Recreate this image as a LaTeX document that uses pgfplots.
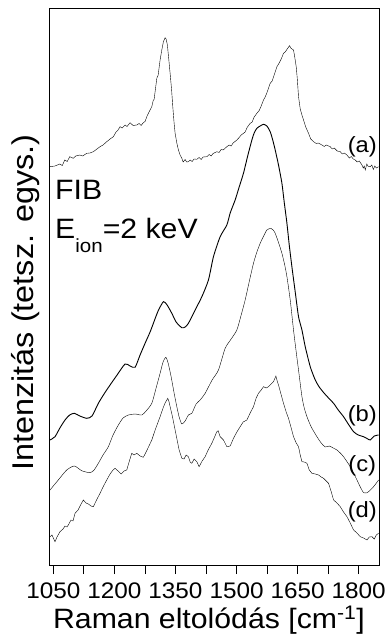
\documentclass[border=0pt]{standalone}
\usepackage{pgfplots}
\pgfplotsset{compat=1.18}
\usepackage{fontspec}
\setmainfont{Liberation Sans}[FakeStretch=1.08]
\begin{document}
\begin{tikzpicture}
\begin{axis}[
  scale only axis,
  width=329.7pt, height=556.5pt,
  xmin=1040, xmax=1850, ymin=0, ymax=556.5,
  xtick={1050,1200,1350,1500,1650,1800},
  xticklabels={1050,1200,1350,1500,1650,1800},
  minor xtick={1125,1275,1425,1575,1725},
  ytick=\empty,
  xtick pos=bottom,
  tick align=outside,
  major tick length=9pt, minor tick length=9pt,
  axis line style={line width=0.8pt},
  every tick/.style={line width=0.8pt, black},
  xticklabel style={font=\fontsize{22.5}{22.5}\selectfont, anchor=base, yshift=-24pt},
  xlabel={Raman eltolódás [cm\textsuperscript{-1}]},
  ylabel={Intenzitás (tetsz. egys.)},
  xlabel style={font=\fontsize{28}{28}\selectfont, at={(axis description cs:0.4844,-0.1133)}, anchor=base},
  ylabel style={font=\fontsize{30}{30}\selectfont, at={(axis description cs:-0.0485,0.4717)}, anchor=base},
  clip=false,
  cycle list={{black, line width=0.9pt, line join=round, no markers}},
]
% (a)
\addplot coordinates {
(1041.7,398.3)(1054,399)(1065.6,401)(1072,399.5)(1078,405)(1084,403.5)(1090.2,408.3)(1099,406.7)(1105,409)(1114.8,410)(1122,409)
(1132,411.7)(1140,412)(1148.2,413.3)(1157,416)(1164.7,418.3)(1172,420)(1181.1,423.3)(1189.3,426)(1197.4,428.3)(1204,433)
(1208.9,435)(1213.9,438.3)(1218.8,437)(1226.1,440)(1231,438.5)(1238.4,442.3)(1245.8,439.5)(1254.9,440)(1260.5,441.5)(1265.5,439.5)
(1271.1,442.3)(1275.3,443.5)(1279.5,448.3)(1285,453)(1291.8,458.3)(1295,464)(1297.7,466)(1304.1,486.7)(1307.5,490)(1312.2,505)
(1316.4,515)(1320.3,523.3)(1324.5,527.3)(1327,526)(1330.1,520)(1333,508)(1336.8,491.7)(1340.5,475)(1343.4,458.3)(1346.6,442)
(1349.1,431.7)(1353.3,422)(1357.2,415)(1361.4,410)(1365.6,406.7)(1368.8,403)(1373.7,405.5)(1377.4,403)(1381.8,403.3)(1386,405)
(1390.9,403.5)(1395.8,406)(1402.5,405.7)(1408,407.5)(1413,405.5)(1418,408)(1427,408.3)(1432.7,410.5)(1437.6,409)(1442.5,411.5)
(1451.6,413.3)(1457.3,412.5)(1462.2,415.5)(1467.2,415)(1476.2,418.3)(1481.9,420)(1486.8,419)(1491.7,422)(1500.8,425)(1506.5,427.5)
(1511.4,430)(1517,431.7)(1521.2,433)(1526,437.5)(1533.5,441.7)(1538.4,443)(1543.3,448)(1550,451.7)(1555.7,454.5)(1560.6,459)
(1566.2,465)(1570.4,468)(1575.3,473)(1582.7,481.7)(1587.6,484)(1592.5,490)(1599.2,498.3)(1604.8,502)(1609.8,506)(1615.4,511.7)
(1619.6,513)(1624.5,516)(1630.2,519.3)(1634.3,516.5)(1640,515)(1643,508)(1646.6,498.3)(1649.1,487)(1652.3,468.3)(1656.5,456)
(1660.7,450)(1664.6,445)(1670,438)(1676.9,431.7)(1682.3,426)(1689.2,423.3)(1695.8,421.5)(1700.8,422)(1709.8,420)(1715.5,418.5)
(1720.4,420)(1730.2,418.3)(1735.2,416)(1740.1,417)(1747.5,414)(1754.8,413.3)(1759.8,411)(1764.7,412)(1771.3,410)(1777,407)
(1781.9,408.5)(1786.8,406)(1791.7,405)(1796.6,403)(1801.6,404)(1808.2,400)(1811.4,397)(1813.8,399)(1816.3,395)(1820,401)
(1823.6,398.5)(1828.6,398.3)(1832.3,400)(1836,395.5)(1839.7,399)(1843.4,397)(1849,398.3)
};
% (b)
\addplot+[smooth, tension=0.4] coordinates {
(1041.7,125)(1054,128.3)(1066,137)(1078.6,145)(1090,150)(1101.5,151.7)(1115,149)(1132,146.7)(1145,149)(1160.5,161.7)(1174.5,171)
(1189.3,180)(1206.5,190)(1226.1,201)(1238.4,199)(1250.7,197.7)(1263,210)(1275.3,221.7)(1287.6,233)(1295.7,241.7)(1307.3,254)
(1320.3,263.3)(1329.4,260)(1341,251.7)(1351.6,243)(1365.6,237.3)(1373.7,238)(1381.8,241.7)(1398.3,255)(1414.8,268.3)(1431,285)
(1443.3,308.3)(1459.8,328.3)(1476.2,340)(1484.4,352)(1496.6,365)(1506.5,378)(1517,391.7)(1527.4,409)(1537.7,425)(1543.3,432)
(1550,436.7)(1558.1,439)(1566.2,440.7)(1574.6,439)(1582.7,433.3)(1588.9,425)(1595,415)(1603.1,400)(1611.5,381.7)(1617.1,363)
(1623.8,341.7)(1629.5,320)(1636,298.3)(1644.2,273)(1652.3,248.3)(1660.7,235)(1668.8,218.3)(1681.1,198.3)(1693.4,185)(1703.2,178)
(1713.8,172.5)(1726.1,167)(1738.4,161.7)(1749.9,155)(1762.9,148.3)(1774.5,141)(1787.5,133.3)(1799,130)(1812.1,128.3)(1820.5,126.5)
(1828.6,125)(1838.4,129)(1849,130)
};
% (c)
\addplot+[smooth, tension=0.4] coordinates {
(1041.7,75)(1062.1,85)(1082.8,95)(1101.5,99)(1119.7,94.3)(1140.1,92.3)(1150,95)(1160.5,101.7)(1172,110)(1185.1,118.3)(1196.6,130)
(1209.7,140)(1221.2,147)(1234.3,150)(1250.7,151)(1267.2,150)(1277.8,154)(1291.8,161.7)(1302.4,177)(1312.2,191.7)(1319.5,203)
(1326.2,207.7)(1331.9,202)(1339.3,188.3)(1346.6,172)(1353.3,158.3)(1359,148)(1365.6,141)(1373.7,144)(1381.8,150)(1390.2,151.7)
(1400.7,161)(1410.6,165)(1422.9,171.7)(1440,185)(1455.6,195)(1472.1,216.7)(1486.8,226)(1500.8,235)(1511.4,250)(1521.2,265)
(1531,283)(1541.6,301.7)(1550,313)(1558.1,321.7)(1566.7,329)(1574.6,335)(1584.4,336.7)(1590,335)(1595,331.7)(1603.6,322)
(1611.5,311.7)(1618.4,300)(1623.8,288.3)(1631.9,265)(1640,235)(1646.6,213)(1652.3,195)(1660.7,168.3)(1666.4,157)(1673,148.3)
(1683.6,138)(1697.5,128.3)(1708,122)(1718,118)(1727.8,119)(1737.6,117)(1746.7,115)(1754.8,112)(1762.9,108.3)(1779.4,98.3)
(1795.9,85)(1804,78)(1812.1,72.3)(1818.8,72)(1824.4,73.3)(1836.7,78.3)(1849,85)
};
% (d)
\addplot coordinates {
(1041.7,28.3)(1046.6,30)(1054,23.3)(1058.9,28)(1066.3,33.3)(1073.7,36)(1078.6,39)(1083.5,38)(1086.7,40)(1093.4,45)(1098.3,44)
(1103.2,51.7)(1110.6,55)(1115.5,59)(1123.6,65)(1130.2,62)(1135.9,61)(1142.5,59)(1148.2,58.3)(1157.3,66)(1164.7,71.7)(1172,78)
(1181.1,85)(1189.3,91)(1196.6,95)(1201.6,96.7)(1209,94)(1216.3,91)(1223.7,94)(1230.3,95)(1236,103)(1242.6,111.7)(1248.2,110)
(1254.9,111.7)(1263,109)(1271.1,107.7)(1280.2,115)(1291.8,125)(1300,135)(1312.2,148.3)(1319.5,157)(1324.5,162)(1331.1,166.7)
(1334.3,163)(1336.8,158.3)(1341.7,150)(1349.1,135)(1354,125)(1359,115)(1365.6,106.7)(1371.1,106)(1376.1,110)(1381.8,108.3)
(1386,103)(1390.2,101.7)(1395.8,106)(1402.5,103.3)(1408.1,98.3)(1415.5,104)(1422.9,108.3)(1430.3,115)(1439.3,121.7)(1445,127)
(1451.6,133.3)(1454.9,134.3)(1459.8,128.3)(1467.9,125)(1476.2,118.3)(1484.4,119)(1492.5,126.7)(1500.8,133)(1508.9,138.3)(1516.3,143)
(1525.4,145)(1533.5,152)(1541.6,158.3)(1548.3,167)(1553.9,171.7)(1560.6,175)(1566.2,178.3)(1572.8,177)(1578.5,178.3)(1585.2,181)
(1590.8,183.3)(1596.7,189)(1599.9,184)(1603.1,180)(1608.5,172)(1615.4,161.7)(1622,153)(1627.7,146.7)(1634.3,137)(1640,128.3)
(1646.6,122)(1652.3,118.3)(1656.5,110)(1660.7,103.3)(1666.4,103)(1673,101.7)(1678.7,95)(1685.3,91.7)(1693.4,91)(1701.5,90)
(1708,88)(1713.8,86.7)(1720.4,84)(1726.1,81.7)(1732.8,73)(1738.4,65)(1746.7,62)(1754.8,58.3)(1762.9,53)(1771.3,48.3)
(1779.4,42)(1787.5,35)(1795.9,32)(1804,28.3)(1812.1,27)(1820.5,25)(1826.1,28)(1832.7,28.3)(1838.4,26)(1843.4,30)(1849,31.7)
};
\node[font=\fontsize{22}{22}\selectfont] at (axis cs:1809,418) {(a)};
\node[font=\fontsize{22}{22}\selectfont] at (axis cs:1809,149) {(b)};
\node[font=\fontsize{22}{22}\selectfont] at (axis cs:1809,99) {(c)};
\node[font=\fontsize{22}{22}\selectfont] at (axis cs:1809,53) {(d)};
\node[font=\fontsize{28}{28}\selectfont, anchor=base west, inner sep=0pt] at (axis cs:1054,365) {FIB};
\node[font=\fontsize{28}{28}\selectfont, anchor=base west, inner sep=0pt] at (axis cs:1054,326) {E\raisebox{-0.5em}{\fontsize{19}{19}\selectfont ion}=2 keV};
\end{axis}
\pgfresetboundingbox
\path ([shift={(-49.3pt,-69pt)}]current axis.south west) rectangle ([shift={(8pt,8.5pt)}]current axis.north east);
\end{tikzpicture}
\end{document}
